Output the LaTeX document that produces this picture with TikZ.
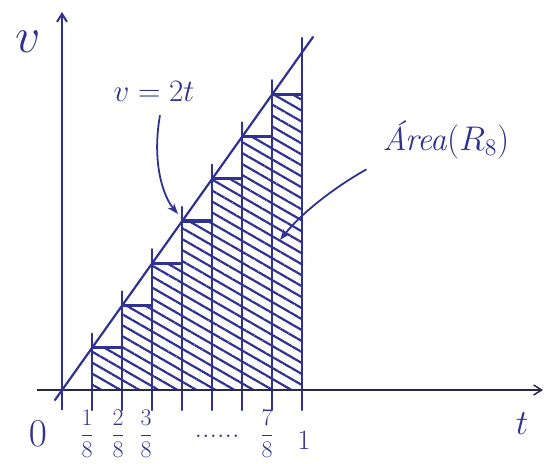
\documentclass[tikz,border=0pt]{standalone}
\usetikzlibrary{arrows.meta,patterns.meta}
\definecolor{ink}{RGB}{48,50,145}
\definecolor{axisink}{RGB}{40,40,80}
\begin{document}
\begin{tikzpicture}[x=1pt,y=-1pt,
  inkline/.style={draw=ink,line width=2.2pt,line cap=round},
  axisline/.style={draw=axisink,line width=1.5pt,-{Straight Barb[length=8pt,width=10pt]}},
  hatch/.style={pattern={Lines[angle=-30,distance=9.5pt,line width=2.2pt]},pattern color=ink},
  toptick/.style={draw=ink,line width=3.2pt},
  lbl/.style={text=ink,inner sep=0pt,font=\fontsize{20}{20}\selectfont},
  callout/.style={draw=ink,line width=1.8pt,-{Stealth[length=11pt,width=8pt]}}]
\useasboundingbox (0,0) rectangle (545,463);
% hatched rectangles
\foreach \k in {1,...,7}{
  \pgfmathsetmacro{\xa}{62+30*\k}
  \pgfmathsetmacro{\xb}{92+30*\k}
  \pgfmathsetmacro{\yt}{390-42.25*\k}
  \path[hatch] (\xa,390) rectangle (\xb,\yt);
  \coordinate (r\k a) at (\xa,\yt);
  \coordinate (r\k b) at (\xb,\yt);
  \draw[toptick] (r\k a) -- (r\k b);
}
% vertical lines at k/8
\foreach \k in {1,...,8}{
  \pgfmathsetmacro{\xa}{62+30*\k}
  \pgfmathsetmacro{\yt}{390-42.25*\k-14}
  \coordinate (b\k) at (\xa,410);
  \coordinate (t\k) at (\xa,\yt);
  \draw[inkline] (b\k) -- (t\k);
}
% axes
\coordinate (xs) at (37,390);
\coordinate (xe) at (543,390);
\coordinate (yb) at (62,410);
\coordinate (ye) at (62,12);
\draw[axisline] (xs) -- (xe);
\draw[axisline,draw=ink,line width=2pt] (yb) -- (ye);
% line v = 2t
\coordinate (ls) at (55,400);
\coordinate (le) at (313,37);
\draw[inkline] (ls) -- (le);
% labels
\node[lbl] (vl) at (28,42) {\scalebox{2.4}{$v$}};
\node[lbl] (eq) at (154,91) {\scalebox{1.5}{$v=2t$}};
\node[lbl] (ar) at (446,140) {\scalebox{1.65}{\textit{\'Area}$(R_8)$}};
\node[lbl] (n0) at (38,434) {\scalebox{1.9}{$0$}};
\node[lbl] (f1) at (87,434) {\scalebox{1.15}{$\displaystyle\frac{1}{8}$}};
\node[lbl] (f2) at (118,434) {\scalebox{1.15}{$\displaystyle\frac{2}{8}$}};
\node[lbl] (f3) at (146,434) {\scalebox{1.15}{$\displaystyle\frac{3}{8}$}};
\node[lbl] (dots) at (217,436) {\scalebox{1.5}{......}};
\node[lbl] (f7) at (267,434) {\scalebox{1.15}{$\displaystyle\frac{7}{8}$}};
\node[lbl] (n1) at (304,440) {\scalebox{1.35}{$1$}};
\node[lbl] (tl) at (522,424) {\scalebox{1.7}{$t$}};
% callouts
\coordinate (c1) at (178,214);
\coordinate (c2) at (280,240);
\draw[callout] (eq.south) ++(6,14) .. controls (152,160) and (162,195) .. (c1);
\draw[callout] (ar.south west) ++(-16,10) .. controls (330,190) and (300,215) .. (c2);
\end{tikzpicture}
\end{document}
